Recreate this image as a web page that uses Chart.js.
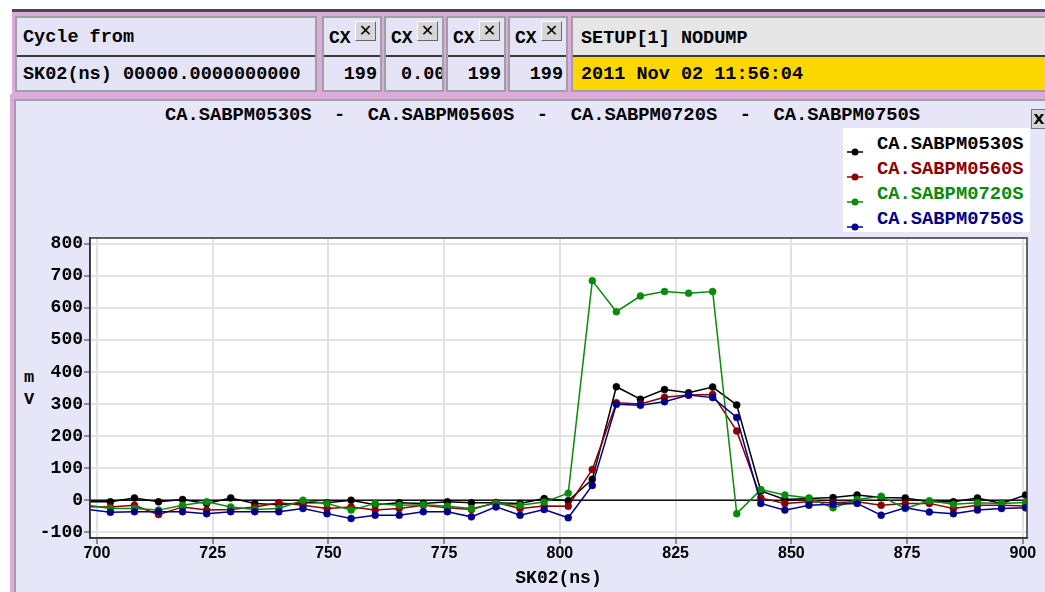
<!DOCTYPE html>
<html><head><meta charset="utf-8">
<script src="https://cdn.jsdelivr.net/npm/chart.js@4.4.0/dist/chart.umd.min.js"></script>
<style>
body{margin:0;width:1045px;height:592px;background:#fff;position:relative;overflow:hidden;font-family:"Liberation Mono","DejaVu Sans Mono",monospace;font-weight:bold;color:#000;}
.a{position:absolute;}
.t{position:absolute;white-space:pre;line-height:1;font-size:18.5px;}
.box{position:absolute;background:#e4e4f6;border:2px solid #a0a0a0;box-sizing:border-box;overflow:hidden;}
.sep{position:absolute;left:0;right:0;height:2px;background:#3a3a3a;}
.xb{position:absolute;width:21px;height:20px;background:#d6d6d6;border:1px solid;border-color:#fff #666 #666 #fff;box-sizing:border-box;font-family:"DejaVu Sans",sans-serif;font-size:16px;font-weight:bold;line-height:18px;text-align:center;}
</style></head>
<body>
<div class="a" style="left:12px;top:9px;width:1033px;height:3px;background:#4a4a4a"></div>
<div class="a" style="left:12px;top:12px;width:1033px;height:82px;background:#dcaadc"></div>

<div class="box" style="left:15px;top:16px;width:302px;height:76px;">
  <div class="t" style="left:6px;top:11px;">Cycle from</div>
  <div class="sep" style="top:37px"></div>
  <div class="t" style="left:6px;top:48px;">SK02(ns) 00000.0000000000</div>
</div>

<div class="box" style="left:322px;top:16px;width:60px;height:76px;">
  <div class="t" style="left:5px;top:11px;font-size:18px">CX</div><div class="xb" style="left:31px;top:3px">✕</div>
  <div class="sep" style="top:37px"></div>
  <div class="t" style="right:3px;top:48px;">199</div>
</div>
<div class="box" style="left:384px;top:16px;width:60px;height:76px;">
  <div class="t" style="left:5px;top:11px;font-size:18px">CX</div><div class="xb" style="left:31px;top:3px">✕</div>
  <div class="sep" style="top:37px"></div>
  <div class="t" style="left:15px;top:48px;">0.000</div>
</div>
<div class="box" style="left:446px;top:16px;width:60px;height:76px;">
  <div class="t" style="left:5px;top:11px;font-size:18px">CX</div><div class="xb" style="left:31px;top:3px">✕</div>
  <div class="sep" style="top:37px"></div>
  <div class="t" style="right:3px;top:48px;">199</div>
</div>
<div class="box" style="left:508px;top:16px;width:60px;height:76px;">
  <div class="t" style="left:5px;top:11px;font-size:18px">CX</div><div class="xb" style="left:31px;top:3px">✕</div>
  <div class="sep" style="top:37px"></div>
  <div class="t" style="right:3px;top:48px;">199</div>
</div>

<div class="box" style="left:571px;top:16px;width:480px;height:76px;background:#e6e6e6;">
  <div class="t" style="left:8px;top:12px;">SETUP[1] NODUMP</div>
  <div class="sep" style="top:37px"></div>
  <div class="a" style="left:0;top:39px;right:0;bottom:0;background:#ffd700"></div>
  <div class="t" style="left:8px;top:48px;">2011 Nov 02 11:56:04</div>
</div>

<div class="a" style="left:10px;top:94px;width:1035px;height:498px;background:#dcaadc"></div>
<div class="a" style="left:14px;top:99px;width:1031px;height:493px;background:#e6e6f8;border-left:2px solid #a0a0a0;border-top:2px solid #a0a0a0;box-sizing:border-box"></div>

<div class="t" id="title" style="left:0;width:1085px;text-align:center;top:106px;font-size:18.8px"></div>
<div class="a" style="left:1031px;top:109px;width:16px;height:20px;background:#d6d6d6;border:1px solid #777;box-sizing:border-box;font-family:'DejaVu Sans',sans-serif;font-size:14px;line-height:18px;text-align:center">X</div>
<div class="a" id="legend" style="left:843px;top:128px;width:187px;height:104px;background:#fff"></div>
<div class="t" style="left:24px;top:369px;font-size:17px">m</div>
<div class="t" style="left:24px;top:391px;font-size:17px">V</div>

<canvas id="c" class="a" style="left:10px;top:100px;" width="1035" height="492"></canvas>

<script>
// ---- data ----
const timeNs = [697.7, 702.9, 708.1, 713.3, 718.5, 723.7, 728.9, 734.1, 739.3, 744.5,
                749.7, 754.9, 760.1, 765.3, 770.5, 775.7, 780.9, 786.2, 791.4, 796.6,
                801.8, 807.0, 812.2, 817.4, 822.6, 827.8, 833.0, 838.2, 843.4, 848.6,
                853.8, 859.0, 864.2, 869.4, 874.6, 879.8, 885.0, 890.2, 895.4, 900.6];
const sabpm0530 = [-5, -5, 7, -5, 2, -10, 7, -10, -14, -8, -8, 0, -14, -8, -10, -5, -8, -8, -10, 5,
                   -2, 65, 354, 315, 345, 335, 353, 297, 29, 2, 5, 8, 16, 8, 7, -5, -5, 7, -10, 16];
const sabpm0560 = [-20, -21, -16, -45, -21, -31, -29, -21, -8, -16, -26, -21, -31, -26, -16, -24, -29, -7, -26, -18,
                   -19, 96, 304, 300, 321, 328, 330, 216, 7, -10, -5, -8, -5, -16, -10, -10, -26, -16, -16, -18];
const sabpm0720 = [-15, -26, -26, -31, -16, -5, -21, -29, -26, 0, -10, -31, -10, -16, -14, -19, -26, -10, -16, -6,
                   22, 685, 588, 637, 651, 646, 651, -42, 33, 16, 7, -24, 2, 12, -26, -2, -13, -8, -10, -7];
const sabpm0750 = [-28, -38, -36, -36, -36, -42, -36, -36, -36, -26, -42, -57, -47, -47, -36, -36, -52, -21, -47, -29,
                   -55, 46, 299, 296, 307, 328, 320, 258, -10, -31, -16, -13, -10, -47, -24, -37, -42, -31, -26, -24];
const seriesNames = ['CA.SABPM0530S', 'CA.SABPM0560S', 'CA.SABPM0720S', 'CA.SABPM0750S'];
const seriesValues = [sabpm0530, sabpm0560, sabpm0720, sabpm0750];
const seriesColors = ['#000000', '#8b0000', '#0a8a0a', '#00008b'];
const xTickValues = [700, 725, 750, 775, 800, 825, 850, 875, 900];
const yTickValues = [-100, 0, 100, 200, 300, 400, 500, 600, 700, 800];
const xTitle = 'SK02(ns)';

document.getElementById('title').textContent = seriesNames.join('  -  ');
const leg = document.getElementById('legend');
seriesNames.forEach((n, i) => {
  const row = document.createElement('div');
  row.style.cssText = 'position:absolute;left:0;top:' + (5 + i * 25) + 'px;height:22px;width:187px;';
  row.innerHTML = '<svg style="position:absolute;left:3px;top:12px" width="18" height="12"><line x1="1" y1="7" x2="17" y2="7" stroke="' + seriesColors[i] + '" stroke-width="1.5"/><circle cx="9" cy="7" r="3.5" fill="' + seriesColors[i] + '"/></svg>' +
    '<div class="t" style="left:34px;top:2px;font-size:18.8px;color:' + seriesColors[i] + '">' + n + '</div>';
  leg.appendChild(row);
});

const datasets = seriesNames.map((n, i) => ({
  label: n,
  data: timeNs.map((t, k) => ({x: t, y: seriesValues[i][k]})),
  borderColor: seriesColors[i],
  backgroundColor: seriesColors[i],
  pointBackgroundColor: seriesColors[i],
  pointBorderColor: seriesColors[i],
  pointRadius: 3.5,
  pointBorderWidth: 0.5,
  borderWidth: 1.5,
  tension: 0,
  order: 4 - i
}));

const framePlugin = {
  id: 'frame',
  beforeDraw(chart) {
    const {ctx, chartArea: a} = chart;
    ctx.save(); ctx.fillStyle = '#ffffff';
    ctx.fillRect(a.left, a.top, a.right - a.left, a.bottom - a.top); ctx.restore();
  },
  beforeDatasetsDraw(chart) {
    const {ctx, chartArea: a} = chart;
    const y0 = chart.scales.y.getPixelForValue(0);
    ctx.save(); ctx.strokeStyle = '#111'; ctx.lineWidth = 1.5;
    ctx.beginPath(); ctx.moveTo(a.left, y0); ctx.lineTo(a.right, y0); ctx.stroke(); ctx.restore();
  },
  afterDraw(chart) {
    const {ctx, chartArea: a} = chart;
    ctx.save(); ctx.strokeStyle = '#333'; ctx.lineWidth = 1.5;
    ctx.strokeRect(a.left, a.top, a.right - a.left, a.bottom - a.top); ctx.restore();
  }
};

const tickFontY = {family: 'Liberation Mono', weight: 'bold', size: 18};
const tickFontX = {family: 'Liberation Sans', weight: 'bold', size: 16};

new Chart(document.getElementById('c'), {
  type: 'line',
  data: {datasets},
  plugins: [framePlugin],
  options: {
    responsive: false,
    animation: false,
    layout: {padding: {top: 138, right: 18, left: 0, bottom: 0}},
    plugins: {legend: {display: false}, title: {display: false}, tooltip: {enabled: false}},
    scales: {
      x: {
        type: 'linear', min: 698.5, max: 900.9,
        afterBuildTicks: s => { s.ticks = xTickValues.map(v => ({value: v})); },
        afterFit: s => { s.height = 54; },
        grid: {color: '#e2e2e2', lineWidth: 2, tickLength: 6, tickColor: '#333', tickWidth: 1},
        border: {display: true, color: '#333', width: 1.5},
        ticks: {font: tickFontX, color: '#000', padding: 0, maxRotation: 0, autoSkip: false},
        title: {display: true, text: xTitle, color: '#000', font: {family: 'Liberation Mono', weight: 'bold', size: 18}, padding: {top: 0, bottom: 3}}
      },
      y: {
        type: 'linear', min: -118, max: 818,
        afterBuildTicks: s => { s.ticks = yTickValues.map(v => ({value: v})); },
        afterFit: s => { s.width = 80; },
        grid: {color: '#e2e2e2', lineWidth: 2, tickLength: 6, tickColor: '#333', tickWidth: 1},
        border: {display: true, color: '#333', width: 1.5},
        ticks: {font: tickFontY, color: '#000', padding: 1, autoSkip: false}
      }
    }
  }
});
</script>
</body></html>
